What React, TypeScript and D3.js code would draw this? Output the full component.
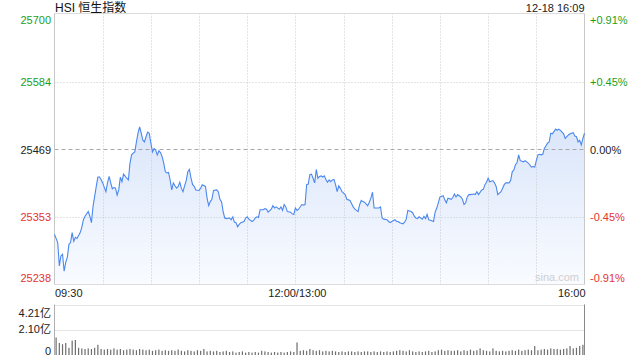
import React from "react";
import * as d3 from "d3";

const PREV_CLOSE = 25469;
const PCT_RANGE = 0.0091;
const priceTicks = [25700, 25584, 25469, 25353, 25238];
const pctTicks = ["+0.91%", "+0.45%", "0.00%", "-0.45%", "-0.91%"];
const timeLabels = ["09:30", "12:00/13:00", "16:00"];
const timeLabelMinutes = [0, 150, 330];
const gridMinutes = [30, 60, 90, 120, 150, 180, 210, 240, 270, 300];
const volTickValues = [4.21, 2.1, 0];
const volTickLabels = ["4.21亿", "2.10亿", "0"];
const titleText = "HSI 恒生指数";
const stampText = "12-18 16:09";

// trading minutes since 09:30 (lunch break removed)
const minutes = [
  0, 2, 3, 4, 5, 6, 7, 8, 9, 10, 11, 12, 13, 14, 16, 17, 18, 19, 21, 22, 23, 24, 25, 26, 27, 28, 29, 30, 32, 33,
  34, 35, 36, 37, 38, 39, 40, 41, 42, 43, 45, 46, 47, 48, 49, 50, 51, 52, 53, 54, 55, 56, 57, 58, 59, 60, 61, 62, 63, 64,
  65, 66, 67, 68, 69, 70, 71, 72, 73, 74, 75, 76, 77, 78, 79, 80, 81, 82, 83, 84, 85,
  86, 87, 88, 90, 91, 92, 94, 95, 96, 97, 98, 99, 101, 102, 103, 104, 105, 106, 107, 109, 110, 111, 112, 113, 114, 115, 116, 118, 119, 120,
  121, 123, 124, 125, 126, 127, 128, 130, 131, 132, 133, 135, 136, 137, 138, 140, 141, 142, 143, 144, 145, 147, 148, 149, 150, 151, 152, 154, 155, 156,
  157, 158, 159, 160, 161, 162, 163, 164, 165, 166, 167, 168, 169, 170, 171,
  172, 173, 174, 175, 176, 177, 178, 179, 181, 182, 183, 184, 186, 187, 188, 189, 190, 191, 192, 193, 195, 196, 197, 198, 199, 200, 202, 203, 204, 205,
  207, 208, 209, 210, 212, 213, 214, 215, 217, 218, 219, 220, 222, 223, 224, 225, 226, 227, 229, 230, 231, 232, 233, 234, 236, 237, 238, 239, 240, 242,
  243, 244, 245, 247, 248, 249, 250, 251, 253,
  254, 255, 256, 257, 258, 259, 261, 262, 263, 264, 266, 267, 268, 269, 270, 271, 273, 274, 275, 276, 278, 279, 280, 281, 283, 284, 285, 286, 287, 288,
  289, 290, 292, 293, 294, 295, 297, 298, 299, 300, 301, 302, 303, 304, 305, 307, 308, 309, 310, 312, 313, 314, 315, 317, 318, 319, 320, 321, 323, 324,
  325, 326, 327, 328, 329, 330,
];

const prices = [
  25323, 25309, 25269, 25286, 25289, 25260, 25275, 25284, 25306, 25309,
  25326, 25311, 25318, 25316, 25326, 25335, 25348, 25354, 25362, 25354,
  25343, 25371, 25388, 25405, 25421, 25421, 25417, 25411, 25396, 25411,
  25422, 25411, 25401, 25403, 25402, 25390, 25399, 25421, 25413, 25426,
  25419, 25416, 25445, 25459, 25462, 25464, 25481, 25496, 25507, 25496,
  25484, 25481, 25490, 25498, 25496, 25479, 25464, 25470, 25467, 25459,
  25466, 25463, 25456, 25445, 25430, 25428, 25429, 25416, 25399, 25411,
  25406, 25402, 25405, 25412, 25402, 25396, 25406, 25415, 25430, 25434,
  25419,
  25408, 25405, 25399, 25398, 25402, 25408, 25405, 25385, 25372, 25379,
  25383, 25398, 25399, 25396, 25383, 25379, 25362, 25351, 25350, 25351,
  25348, 25353, 25344, 25343, 25336, 25340, 25343, 25345, 25351, 25353,
  25349, 25345, 25347, 25351, 25353, 25352, 25365, 25365, 25367, 25366,
  25361, 25366, 25372, 25368, 25370, 25366, 25370, 25364, 25374, 25370,
  25362, 25361, 25358, 25357, 25368, 25364, 25366, 25374, 25373, 25374,
  25408, 25409, 25425, 25426, 25419, 25411, 25434, 25419, 25422, 25423,
  25421, 25423, 25417, 25412, 25416,
  25413, 25416, 25417, 25408, 25396, 25406, 25402, 25396, 25391, 25383,
  25382, 25381, 25370, 25366, 25364, 25362, 25374, 25381, 25379, 25378,
  25372, 25378, 25385, 25395, 25368, 25368, 25368, 25370, 25351, 25349,
  25348, 25345, 25343, 25345, 25348, 25345, 25345, 25343, 25341, 25344,
  25349, 25364, 25362, 25360, 25354, 25351, 25350, 25353, 25349, 25354,
  25350, 25357, 25348, 25347, 25345, 25361, 25368, 25377, 25387, 25389,
  25382, 25377, 25385, 25383, 25386, 25392, 25387, 25391, 25387,
  25383, 25374, 25377, 25387, 25391, 25391, 25392, 25391, 25396, 25391,
  25399, 25400, 25408, 25412, 25419, 25413, 25415, 25411, 25405, 25391,
  25396, 25402, 25408, 25411, 25411, 25415, 25430, 25433, 25442, 25446,
  25459, 25449, 25447, 25449, 25447, 25445, 25438, 25439, 25438, 25449,
  25459, 25460, 25459, 25460, 25470, 25479, 25481, 25496, 25495, 25503,
  25501, 25503, 25501, 25495, 25487, 25490, 25493, 25495, 25497, 25491,
  25490, 25481, 25484, 25476, 25487, 25496,
];

// volume in 亿, one bar per 2 trading minutes
const volumes = [
  1.46, 1.0, 0.9, 1.0, 0.6, 1.2, 1.25, 0.6, 0.55, 0.5,
  0.55, 0.5, 0.6, 0.85, 0.5, 0.45, 0.5, 0.45, 0.55, 0.45,
  0.5, 0.4, 0.45, 0.5, 0.45, 0.4, 0.5, 0.45, 0.4, 0.45,
  0.35, 0.4, 0.45, 0.35, 0.4, 0.35, 0.4, 0.35, 0.45, 0.35,
  0.3, 0.4, 0.35, 0.3, 0.4, 0.35, 0.5, 0.3, 0.35, 0.3,
  0.35, 0.25, 0.3, 0.35, 0.25, 0.3, 0.2, 0.25, 0.3, 0.2,
  0.25, 0.2, 0.25, 0.2, 0.35, 0.3, 0.25, 0.2, 0.25, 0.2,
  0.25, 0.2, 0.25, 0.3, 0.25, 1.05, 0.35, 0.4, 0.35, 0.5,
  0.4, 0.35, 0.4, 0.3, 0.35, 0.3, 0.35, 0.3, 0.25, 0.3,
  0.25, 0.3, 0.3, 0.25, 0.3, 0.25, 0.3, 0.3, 0.25, 0.3,
  0.25, 0.3, 0.25, 0.3, 0.25, 0.3, 0.35, 0.4, 0.35, 0.3,
  0.4, 0.3, 0.25, 0.3, 0.25, 0.3, 0.35, 0.25, 0.3, 0.4,
  0.45, 0.35, 0.4, 0.35, 0.35, 0.4, 0.3, 0.4, 0.35, 0.45,
  0.35, 0.4, 0.55, 0.4, 0.35, 0.3, 0.55, 0.35, 0.3, 0.35,
  0.3, 0.35, 0.4, 0.35, 0.45, 0.35, 0.4, 0.45, 0.4, 0.75,
  0.4, 0.45, 0.5, 0.45, 0.55, 0.5, 0.5, 0.45, 0.5, 0.55,
  0.75, 0.55, 0.6, 0.75, 0.85,
];

const W = 640;
const H = 360;
const LEFT = 54.5;
const RIGHT = 584.5;
const TOP = 13.5;
const BOTTOM = 284.5;
const VTOP = 304.5;
const VBOTTOM = 355;
const FONT = "'Liberation Sans', Arial, 'Noto Sans CJK SC', sans-serif";
const GREEN = "#1a9f1a";
const RED = "#e4332e";

export default function App() {
  const x = d3.scaleLinear().domain([0, 330]).range([LEFT, RIGHT]);
  const y = d3
    .scaleLinear()
    .domain([PREV_CLOSE * (1 - PCT_RANGE), PREV_CLOSE * (1 + PCT_RANGE)])
    .range([BOTTOM, TOP]);
  const vy = d3.scaleLinear().domain([0, 4.21]).range([VBOTTOM, VTOP]);

  const pts = minutes.map((m, i) => [m, prices[i]] as [number, number]);
  const line = d3
    .line<[number, number]>()
    .x((d) => x(d[0]))
    .y((d) => y(d[1]));
  const area = d3
    .area<[number, number]>()
    .x((d) => x(d[0]))
    .y0(BOTTOM)
    .y1((d) => y(d[1]));

  const labelColor = (i: number) => (i < 2 ? GREEN : i === 2 ? "#222" : RED);
  const labelY = (v: number, i: number) => {
    const yy = y(v);
    if (i === 0) return yy + 7;
    if (i === priceTicks.length - 1) return yy - 6;
    return yy + 1;
  };

  return (
    <svg
      width={W}
      height={H}
      style={{ position: "absolute", left: 0, top: 0, background: "#fff" }}
      fontFamily={FONT}
    >
      <defs>
        <linearGradient id="fillGrad" gradientUnits="userSpaceOnUse" x1="0" y1={120} x2="0" y2={BOTTOM}>
          <stop offset="0" stopColor="#d9e5fa" />
          <stop offset="1" stopColor="#f9fbff" />
        </linearGradient>
      </defs>

      {/* area + line */}
      <path d={area(pts) || ""} fill="url(#fillGrad)" />

      {/* vertical grid */}
      {gridMinutes.map((m) => (
        <line
          key={"vg" + m}
          x1={Math.round(x(m)) + 0.5}
          x2={Math.round(x(m)) + 0.5}
          y1={TOP}
          y2={BOTTOM}
          stroke="#c8c8c8"
          strokeDasharray="1,2"
        />
      ))}
      {/* horizontal grid */}
      {priceTicks.slice(1, 4).map((v, i) => (
        <line
          key={"hg" + v}
          x1={LEFT}
          x2={RIGHT}
          y1={Math.round(y(v)) + 0.5}
          y2={Math.round(y(v)) + 0.5}
          stroke={i === 1 ? "#a8a8a8" : "#c8c8c8"}
          strokeDasharray={i === 1 ? "4,3" : "1,2"}
        />
      ))}
      <line x1={LEFT} x2={RIGHT} y1={TOP} y2={TOP} stroke="#dcdcdc" />
      <line x1={LEFT} x2={RIGHT} y1={BOTTOM} y2={BOTTOM} stroke="#dcdcdc" />
      <line x1={LEFT} x2={LEFT} y1={TOP} y2={BOTTOM} stroke="#c8c8c8" />
      <line x1={RIGHT} x2={RIGHT} y1={TOP} y2={BOTTOM} stroke="#c8c8c8" />

      <path d={line(pts) || ""} fill="none" stroke="#4b88ee" strokeWidth={1.1} />

      {/* title & stamp */}
      <text x={55} y={12} fontSize={12} fill="#111">
        {titleText}
      </text>
      <text x={RIGHT} y={11.5} fontSize={11} fill="#222" textAnchor="end">
        {stampText}
      </text>

      {/* left price labels */}
      {priceTicks.map((v, i) => (
        <text
          key={"pl" + v}
          x={51}
          y={labelY(v, i)}
          dy="0.32em"
          fontSize={11}
          textAnchor="end"
          fill={labelColor(i)}
        >
          {v}
        </text>
      ))}
      {/* right pct labels */}
      {priceTicks.map((v, i) => (
        <text
          key={"pr" + v}
          x={590}
          y={labelY(v, i)}
          dy="0.32em"
          fontSize={11}
          textAnchor="start"
          fill={labelColor(i)}
        >
          {pctTicks[i]}
        </text>
      ))}

      {/* watermark */}
      <text x={579} y={281} fontSize={11} fill="#cfcfcf" textAnchor="end">
        sina.com
      </text>

      {/* time labels */}
      {timeLabels.map((t, i) => (
        <text
          key={"tl" + t}
          x={i === 0 ? 55 : i === 2 ? RIGHT + 1 : x(timeLabelMinutes[i]) + 2}
          y={297}
          fontSize={11}
          fill="#222"
          textAnchor={i === 0 ? "start" : i === 2 ? "end" : "middle"}
        >
          {t}
        </text>
      ))}

      {/* volume panel */}
      {volTickValues.slice(0, 2).map((v) => (
        <line
          key={"vgl" + v}
          x1={LEFT}
          x2={RIGHT}
          y1={Math.round(vy(v)) + 0.5}
          y2={Math.round(vy(v)) + 0.5}
          stroke="#c8c8c8"
          strokeDasharray="1,1"
        />
      ))}
      {volumes.map((v, i) => {
        const cx = x(i * 2 + 1);
        return (
          <rect
            key={"vb" + i}
            x={cx - 0.6}
            y={vy(v)}
            width={1.2}
            height={VBOTTOM - vy(v)}
            fill="#6e6e6e"
          />
        );
      })}
      <line x1={LEFT} x2={LEFT} y1={VTOP} y2={VBOTTOM} stroke="#b0b0b0" />
      <line x1={RIGHT} x2={RIGHT} y1={VTOP} y2={VBOTTOM} stroke="#888" />
      {volTickValues.map((v, i) => (
        <text
          key={"vl" + i}
          x={51}
          y={i === 0 ? vy(v) + 8.5 : i === 2 ? vy(v) - 3.5 : vy(v)}
          dy="0.32em"
          fontSize={11}
          textAnchor="end"
          fill="#222"
        >
          {volTickLabels[i]}
        </text>
      ))}
    </svg>
  );
}
